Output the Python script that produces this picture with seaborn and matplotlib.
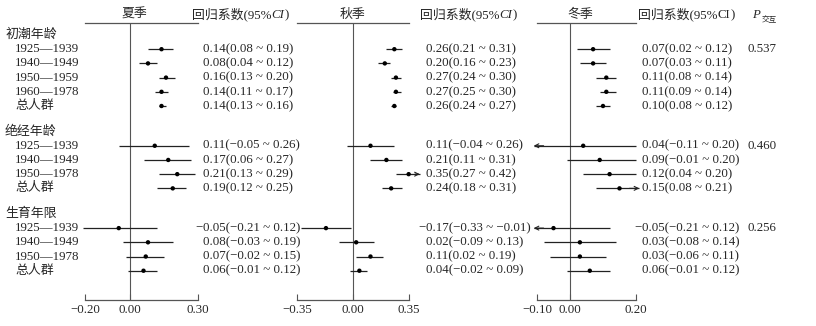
import matplotlib
matplotlib.use('Agg')
import pandas as pd
import seaborn as sns
import matplotlib.pyplot as plt
import matplotlib.transforms as mtransforms

# ---- data ----
seasons = ['夏季', '秋季', '冬季']
groups = ['初潮年龄', '绝经年龄', '生育年限']
sub_menarche = ['1925—1939', '1940—1949', '1950—1959', '1960—1978', '总人群']
sub_menopause = ['1925—1939', '1940—1949', '1950—1978', '总人群']
sub_reproductive = ['1925—1939', '1940—1949', '1950—1978', '总人群']

summer_est = [0.14, 0.08, 0.16, 0.14, 0.14, 0.11, 0.17, 0.21, 0.19, -0.05, 0.08, 0.07, 0.06]
summer_lo = [0.08, 0.04, 0.13, 0.11, 0.13, -0.05, 0.06, 0.13, 0.12, -0.21, -0.03, -0.02, -0.01]
summer_hi = [0.19, 0.12, 0.20, 0.17, 0.16, 0.26, 0.27, 0.29, 0.25, 0.12, 0.19, 0.15, 0.12]

autumn_est = [0.26, 0.20, 0.27, 0.27, 0.26, 0.11, 0.21, 0.35, 0.24, -0.17, 0.02, 0.11, 0.04]
autumn_lo = [0.21, 0.16, 0.24, 0.25, 0.24, -0.04, 0.11, 0.27, 0.18, -0.33, -0.09, 0.02, -0.02]
autumn_hi = [0.31, 0.23, 0.30, 0.30, 0.27, 0.26, 0.31, 0.42, 0.31, -0.01, 0.13, 0.19, 0.09]

winter_est = [0.07, 0.07, 0.11, 0.11, 0.10, 0.04, 0.09, 0.12, 0.15, -0.05, 0.03, 0.03, 0.06]
winter_lo = [0.02, 0.03, 0.08, 0.09, 0.08, -0.11, -0.01, 0.04, 0.08, -0.21, -0.08, -0.06, -0.01]
winter_hi = [0.12, 0.11, 0.14, 0.14, 0.12, 0.20, 0.20, 0.20, 0.21, 0.12, 0.14, 0.11, 0.12]

p_interaction = ['0.537', '0.460', '0.256']

tick_sets = [[-0.20, 0.00, 0.30], [-0.35, 0.00, 0.35], [-0.10, 0.00, 0.20]]

# ---- layout (figure pixels) ----
W, H = 816, 326
FS = 9.3
ROW0, ROWH = 35, 14.2
AX_TOP, AX_BOT = 23, 300
LINE_C = '#222222'
AXIS_C = '#555555'
# zero position, px per unit, xlim, arrow range, cap range
panel_cfg = [
    (130, 225, (-0.25, 0.32), (-0.25, 0.35), (-0.25, 0.35)),
    (353, 159, (-0.37, 0.45), (-0.35, 0.35), (-0.35, 0.43)),
    (570, 330, (-0.12, 0.23), (-0.10, 0.20), (-0.11, 0.21)),
]
ci_text_x = [203, 426, 642]
season_x = [134, 353, 580]
head_x = [192, 420, 638]
P_X = 748

sns.set_theme(style='white')
plt.rcParams['font.family'] = ['Liberation Serif', 'Noto Sans CJK SC', 'DejaVu Sans']
plt.rcParams['axes.unicode_minus'] = True


def fmt(v):
    return '{:.2f}'.format(v).replace('-', '−')


# row positions
rows = []
pos = 0.0
for g, subs in zip(groups, [sub_menarche, sub_menopause, sub_reproductive]):
    rows.append(dict(group=g, label=g, pos=pos, header=True))
    for i, s in enumerate(subs):
        rows.append(dict(group=g, label=s, pos=pos + 1 + i, header=False))
    pos = pos + len(subs) + 1.8
rows = pd.DataFrame(rows)
items = rows[~rows['header']].reset_index(drop=True)

series = [(summer_est, summer_lo, summer_hi),
          (autumn_est, autumn_lo, autumn_hi),
          (winter_est, winter_lo, winter_hi)]
frames = []
for season, (e, l, h) in zip(seasons, series):
    d = items.copy()
    d['season'] = season
    d['est'], d['lo'], d['hi'] = e, l, h
    frames.append(d)
data = pd.concat(frames, ignore_index=True)

r_top = (AX_TOP - ROW0) / ROWH
r_bot = (AX_BOT - ROW0) / ROWH

fig = plt.figure(figsize=(W / 100, H / 100), dpi=100)
renderer = fig.canvas.get_renderer()

axes = []
for k, season in enumerate(seasons):
    zero, scale, xlim, arr, cap = panel_cfg[k]
    x0 = zero + xlim[0] * scale
    x1 = zero + xlim[1] * scale
    ax = fig.add_axes([x0 / W, 1 - AX_BOT / H, (x1 - x0) / W, (AX_BOT - AX_TOP) / H])
    ax.patch.set_alpha(0)
    axes.append(ax)
    d = data[data['season'] == season]

    ax.axvline(0, color=AXIS_C, lw=0.8, zorder=1)
    for _, r in d.iterrows():
        lo_c = max(r['lo'], cap[0])
        hi_c = min(r['hi'], cap[1])
        ax.hlines(r['pos'], lo_c, hi_c, color=LINE_C, lw=0.9, clip_on=False, zorder=2)
        if r['lo'] < arr[0] - 1e-9:
            ax.annotate('', xy=(lo_c, r['pos']), xytext=(lo_c + 0.03, r['pos']),
                        arrowprops=dict(arrowstyle='->', color=LINE_C, lw=0.8,
                                        shrinkA=0, shrinkB=0, mutation_scale=7),
                        annotation_clip=False)
        if r['hi'] > arr[1] + 1e-9:
            ax.annotate('', xy=(hi_c, r['pos']), xytext=(hi_c - 0.03, r['pos']),
                        arrowprops=dict(arrowstyle='->', color=LINE_C, lw=0.8,
                                        shrinkA=0, shrinkB=0, mutation_scale=7),
                        annotation_clip=False)
    sns.scatterplot(data=d, x='est', y='pos', color='black', s=10,
                    edgecolor='none', legend=False, ax=ax, zorder=3)

    ax.set_xlim(xlim)
    ax.set_ylim(r_bot, r_top)
    ax.set_xlabel('')
    ax.set_ylabel('')
    ax.set_yticks([])
    ticks = tick_sets[k]
    ax.set_xticks(ticks)
    ax.set_xticklabels([fmt(t) for t in ticks])
    ax.tick_params(axis='x', direction='in', length=4, width=0.8, color=AXIS_C,
                   pad=3, labelsize=FS, bottom=True)
    for s in ['left', 'right']:
        ax.spines[s].set_visible(False)
    for s in ['top', 'bottom']:
        ax.spines[s].set_visible(True)
        ax.spines[s].set_bounds(ticks[0], ticks[-1])
        ax.spines[s].set_color(AXIS_C)
        ax.spines[s].set_linewidth(0.9)

    # CI text column
    tr = mtransforms.blended_transform_factory(fig.transFigure, ax.transData)
    for _, r in d.iterrows():
        s = '{}({} ~ {})'.format(fmt(r['est']), fmt(r['lo']), fmt(r['hi']))
        xt = ci_text_x[k] / W
        if s.startswith('−'):
            fig.text(xt, r['pos'], '−', transform=tr, ha='right', va='center', fontsize=FS)
            s = s[1:]
        fig.text(xt, r['pos'], s, transform=tr, ha='left', va='center', fontsize=FS)

    # headers
    fig.text(season_x[k] / W, 1 - 18 / H, season, ha='center', va='baseline', fontsize=FS)
    pieces = [('回归系数(95%', 'normal'), ('CI', 'italic' if k < 2 else 'normal'), (')', 'normal')]
    x = head_x[k] / W
    for txt, st in pieces:
        t = fig.text(x, 1 - 18 / H, txt, ha='left', va='baseline', fontsize=FS, style=st)
        x = t.get_window_extent(renderer).x1 / W

# row labels and P values
tr0 = mtransforms.blended_transform_factory(fig.transFigure, axes[0].transData)
for _, r in rows.iterrows():
    xl = 5 if r['header'] else 15
    fig.text(xl / W, r['pos'], r['label'], transform=tr0, ha='left', va='center', fontsize=FS)

for g, p in zip(groups, p_interaction):
    first = items[items['group'] == g]['pos'].iloc[0]
    fig.text(P_X / W, first, p, transform=tr0, ha='left', va='center', fontsize=FS)

tp = fig.text(752 / W, 1 - 18 / H, 'P', ha='left', va='baseline', fontsize=FS, style='italic')
fig.text(tp.get_window_extent(renderer).x1 / W + 2 / W, 1 - 22 / H, '交互',
         ha='left', va='baseline', fontsize=5.5)

fig.savefig('out.png', dpi=100)
